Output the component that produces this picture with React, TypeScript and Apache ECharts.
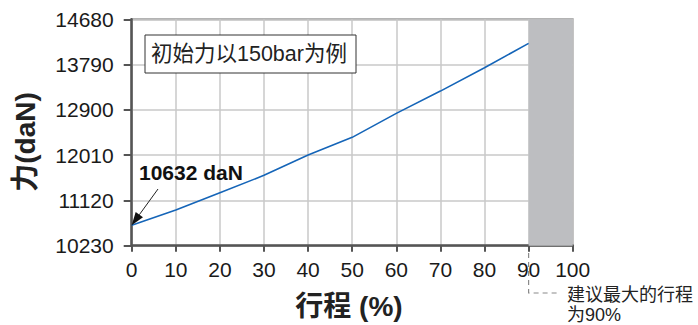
import React, { useEffect, useRef } from "react";
import * as echarts from "echarts";

const strokePct = [0, 10, 20, 30, 40, 50, 60, 70, 80, 90];
const forceDaN = [10632, 10931, 11271, 11613, 12012, 12360, 12831, 13269, 13727, 14207];
const yTicks = [10230, 11120, 12010, 12900, 13790, 14680];
const xTicks = [0, 10, 20, 30, 40, 50, 60, 70, 80, 90, 100];
const shadedRange = [90, 100];
const startLabel = "10632 daN";
const noteText = "初始力以150bar为例";
const yTitle = "力(daN)";
const xTitle = "行程 (%)";
const calloutLines = ["建议最大的行程", "为90%"];

const FONT = "'Liberation Sans', Arial, 'Noto Sans CJK SC', sans-serif";

export default function App() {
  const ref = useRef<HTMLDivElement>(null);
  useEffect(() => {
    document.body.style.margin = "0";
    const chart = echarts.init(ref.current!, null, { renderer: "svg" });
    const data = strokePct.map((x, i) => [x, forceDaN[i]]);
    chart.setOption({
      animation: false,
      textStyle: { fontFamily: FONT },
      grid: {
        left: 131.7,
        right: 125.3,
        top: 19.3,
        bottom: 79.3,
        show: true,
        borderColor: "#9a9a9a",
        borderWidth: 2,
        backgroundColor: "#fff",
      },
      xAxis: {
        type: "value",
        min: xTicks[0],
        max: xTicks[xTicks.length - 1],
        interval: 10,
        axisLine: { show: true, onZero: false, lineStyle: { color: "#555", width: 2.5 } },
        axisTick: { show: true, length: 6, lineStyle: { color: "#555", width: 2 } },
        axisLabel: { color: "#1a1a1a", fontSize: 21, margin: 13, fontFamily: FONT },
        splitLine: { show: true, lineStyle: { color: "#c8c8c8", width: 1.5 } },
      },
      yAxis: {
        type: "value",
        min: yTicks[0],
        max: yTicks[yTicks.length - 1],
        axisLine: { show: true, onZero: false, lineStyle: { color: "#555", width: 2.5 } },
        axisTick: {
          show: true,
          length: 8,
          customValues: yTicks,
          lineStyle: { color: "#555", width: 2 },
        },
        axisLabel: {
          color: "#1a1a1a",
          fontSize: 21,
          margin: 18,
          customValues: yTicks,
          fontFamily: FONT,
          formatter: (v: number) => String(v),
        },
        splitLine: { show: true, lineStyle: { color: "#c8c8c8", width: 1.5 } },
      },
      series: [
        {
          type: "line",
          data,
          showSymbol: false,
          symbol: "none",
          lineStyle: { color: "#1565b8", width: 1.6 },
          z: 5,
          markArea: {
            silent: true,
            itemStyle: { color: "#bdbec1" },
            data: [[{ xAxis: shadedRange[0] }, { xAxis: shadedRange[1] }]],
          },
        },
      ],
    });

    // arrow pointing at the first data point
    const end = chart.convertToPixel({ gridIndex: 0 }, [strokePct[0], forceDaN[0]]) as number[];
    const start = [158, 189];
    const dx = end[0] - start[0];
    const dy = end[1] - start[1];
    const len = Math.sqrt(dx * dx + dy * dy);
    const ux = dx / len;
    const uy = dy / len;
    const headL = 13;
    const headW = 4.5;
    const bx = end[0] - ux * headL;
    const by = end[1] - uy * headL;
    const arrowHead = [
      [end[0], end[1]],
      [bx - uy * headW, by + ux * headW],
      [bx + uy * headW, by - ux * headW],
    ];
    const xAt90 = (chart.convertToPixel({ gridIndex: 0 }, [shadedRange[0], yTicks[0]]) as number[])[0];

    chart.setOption({
      graphic: [
        {
          type: "line",
          shape: { x1: start[0], y1: start[1], x2: bx, y2: by },
          style: { stroke: "#222", lineWidth: 1 },
          z: 12,
        },
        {
          type: "polygon",
          shape: { points: arrowHead },
          style: { fill: "#111" },
          z: 12,
        },
        {
          type: "rect",
          shape: { x: 145, y: 35, width: 211, height: 38 },
          style: { fill: "#fff", stroke: "#333", lineWidth: 1 },
          z: 10,
        },
        {
          type: "text",
          x: 151,
          y: 54,
          style: {
            text: noteText,
            font: `21.5px ${FONT}`,
            fill: "#222",
            verticalAlign: "middle",
            align: "left",
          },
          z: 11,
        },
        {
          type: "text",
          x: 139,
          y: 172,
          style: {
            text: startLabel,
            font: `bold 21px ${FONT}`,
            fill: "#111",
            verticalAlign: "middle",
            align: "left",
          },
          z: 11,
        },
        {
          type: "text",
          x: 25,
          y: 142,
          rotation: Math.PI / 2,
          style: {
            text: yTitle,
            font: `bold 28px ${FONT}`,
            fill: "#222",
            verticalAlign: "middle",
            align: "center",
          },
        },
        {
          type: "text",
          x: 349,
          y: 306,
          style: {
            text: xTitle,
            font: `bold 28px ${FONT}`,
            fill: "#222",
            verticalAlign: "middle",
            align: "center",
          },
        },
        {
          type: "polyline",
          shape: { points: [[xAt90, 253], [xAt90, 293], [xAt90 + 29, 293]] },
          style: { stroke: "#8a8a8a", lineWidth: 1.2, lineDash: [5, 4], fill: null },
        },
        {
          type: "text",
          x: 567,
          y: 295,
          style: {
            text: calloutLines[0],
            font: `18px ${FONT}`,
            fill: "#222",
            verticalAlign: "middle",
            align: "left",
          },
        },
        {
          type: "text",
          x: 567,
          y: 315,
          style: {
            text: calloutLines[1],
            font: `18px ${FONT}`,
            fill: "#222",
            verticalAlign: "middle",
            align: "left",
          },
        },
      ],
    });
    return () => chart.dispose();
  }, []);
  return (
    <div
      ref={ref}
      style={{ position: "fixed", left: 0, top: 0, width: 698, height: 325, background: "#fff" }}
    />
  );
}
